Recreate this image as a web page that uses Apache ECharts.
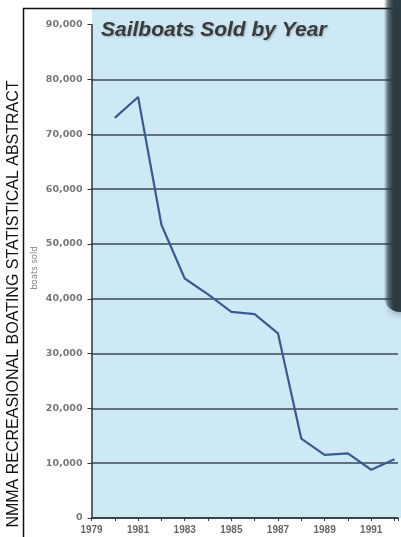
<!DOCTYPE html>
<html><head><meta charset="utf-8">
<script src="https://cdn.jsdelivr.net/npm/echarts@6/dist/echarts.min.js"></script>
<style>html,body{margin:0;padding:0;background:#fff}#c{width:401px;height:537px}</style>
</head><body><div id="c"></div>
<script>
const years = [1980,1981,1982,1983,1984,1985,1986,1987,1988,1989,1990,1991,1992];
const sold = [73000,76800,53500,43700,40800,37600,37200,33700,14500,11500,11800,8800,10700];
const title = 'Sailboats Sold by Year';
const yName = 'boats sold';
const sideText = 'NMMA RECREASIONAL BOATING STATISTICAL ABSTRACT';

const chart = echarts.init(document.getElementById('c'), null, {renderer:'canvas'});
const gl = '#5f7080';
const gridLineColors = [gl,gl,gl,gl,gl,gl,gl,gl,gl,'rgba(0,0,0,0)'];
chart.setOption({
  animation:false,
  graphic:[
    {type:'rect', z:-10, shape:{x:92,y:8,width:320,height:510}, style:{fill:'#cde9f6'}},
    {type:'line', z:10, shape:{x1:23,y1:8.5,x2:392,y2:8.5}, style:{stroke:'#111',lineWidth:1.5}},
    {type:'line', z:10, shape:{x1:23.5,y1:8,x2:23.5,y2:537}, style:{stroke:'#111',lineWidth:1.5}},
    {type:'text', z:10, x:14, y:304, rotation:Math.PI/2, style:{text:sideText, font:'16px "Liberation Sans", Arial, sans-serif', fill:'#111', align:'center', verticalAlign:'middle'}},
    {type:'text', z:10, x:35, y:268, rotation:Math.PI/2, style:{text:yName, font:'8.5px "DejaVu Sans", sans-serif', fill:'#888', align:'center', verticalAlign:'middle'}},
    {type:'text', z:10, x:101, y:30, style:{text:title, font:'italic bold 21px "Liberation Sans", Arial, sans-serif', fill:'#3a3a3a', verticalAlign:'middle', textShadowColor:'rgba(0,0,0,0.25)', textShadowBlur:2, textShadowOffsetX:1, textShadowOffsetY:1}},
    {type:'rect', z:20, shape:{x:384,y:-10,width:40,height:322,r:[0,0,0,16]},
      style:{fill:new echarts.graphic.LinearGradient(0,0,1,0,[{offset:0,color:'rgba(40,55,62,0)'},{offset:0.1,color:'rgba(40,55,62,0.55)'},{offset:0.25,color:'#2c3a42'},{offset:1,color:'#2c3a42'}]),
        shadowBlur:10, shadowColor:'rgba(30,40,50,0.55)'}}
  ],
  grid:{left:91.5, top:24.7, right:0, bottom:19, containLabel:false},
  xAxis:{type:'value', min:1979, max:1992.15, interval:1,
    axisLine:{lineStyle:{color:'#333',width:1.5}},
    axisTick:{show:true, length:3, lineStyle:{color:'#333'}},
    splitLine:{show:false},
    axisLabel:{margin:7, fontSize:10, fontWeight:'bold', color:'#666', fontFamily:'"Liberation Sans Narrow", sans-serif',
      formatter:v => (Math.abs(v % 2 - 1) < 1e-6 ? String(v) : '')}
  },
  yAxis:{type:'value', min:0, max:90000, interval:10000,
    axisLine:{show:true, lineStyle:{color:'#333',width:1.5}},
    axisTick:{show:true, length:4, lineStyle:{color:'#333'}},
    splitLine:{show:true, lineStyle:{color:gridLineColors, width:1.8}},
    axisLabel:{margin:9, fontSize:9.5, fontWeight:'bold', color:'#777', fontFamily:'"DejaVu Sans", sans-serif',
      formatter:v => v.toLocaleString('en-US')}
  },
  series:[{type:'line', data:years.map((y,i)=>[y,sold[i]]), symbol:'none',
    lineStyle:{color:'#3a5a90', width:2.2}, z:5}]
});
</script></body></html>
